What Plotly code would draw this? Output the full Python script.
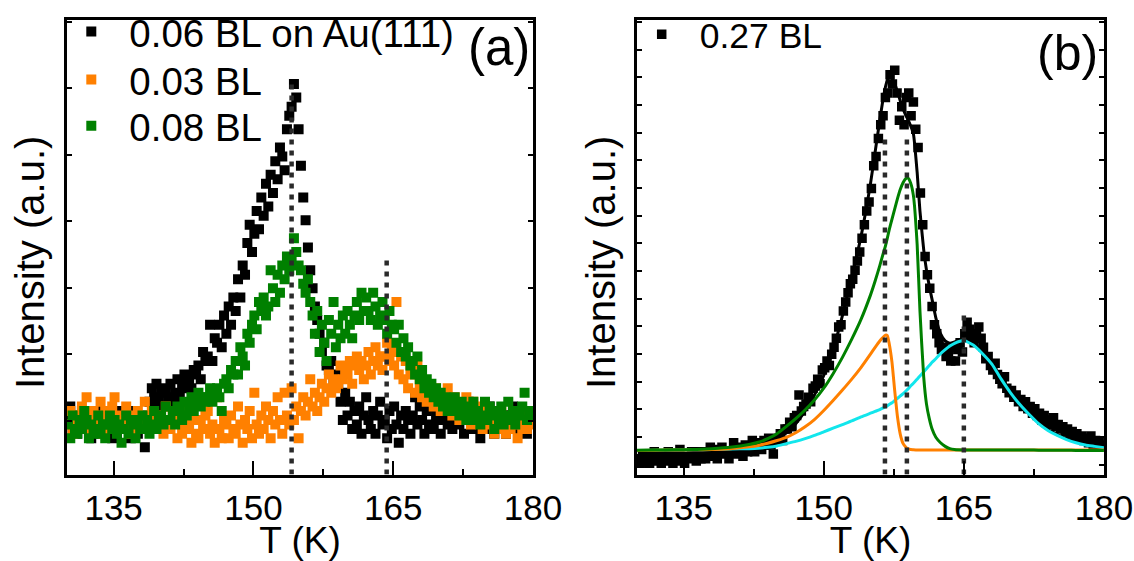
import plotly.graph_objects as go

FONT = "Liberation Sans, Arial, Helvetica, sans-serif"

# Sample temperatures of the desorption scans (K)
temp_scan = [
    130.1, 130.35, 130.6, 130.85, 131.1, 131.35, 131.6, 131.85,
    132.1, 132.35, 132.6, 132.85, 133.1, 133.35, 133.6, 133.85,
    134.1, 134.35, 134.6, 134.85, 135.1, 135.35, 135.6, 135.85,
    136.1, 136.35, 136.6, 136.85, 137.1, 137.35, 137.6, 137.85,
    138.1, 138.35, 138.6, 138.85, 139.1, 139.35, 139.6, 139.85,
    140.1, 140.35, 140.6, 140.85, 141.1, 141.35, 141.6, 141.85,
    142.1, 142.35, 142.6, 142.85, 143.1, 143.35, 143.6, 143.85,
    144.1, 144.35, 144.6, 144.85, 145.1, 145.35, 145.6, 145.85,
    146.1, 146.35, 146.6, 146.85, 147.1, 147.35, 147.6, 147.85,
    148.1, 148.35, 148.6, 148.85, 149.1, 149.35, 149.6, 149.85,
    150.1, 150.35, 150.6, 150.85, 151.1, 151.35, 151.6, 151.85,
    152.1, 152.35, 152.6, 152.85, 153.1, 153.35, 153.6, 153.85,
    154.1, 154.35, 154.6, 154.85, 155.1, 155.35, 155.6, 155.85,
    156.1, 156.35, 156.6, 156.85, 157.1, 157.35, 157.6, 157.85,
    158.1, 158.35, 158.6, 158.85, 159.1, 159.35, 159.6, 159.85,
    160.1, 160.35, 160.6, 160.85, 161.1, 161.35, 161.6, 161.85,
    162.1, 162.35, 162.6, 162.85, 163.1, 163.35, 163.6, 163.85,
    164.1, 164.35, 164.6, 164.85, 165.1, 165.35, 165.6, 165.85,
    166.1, 166.35, 166.6, 166.85, 167.1, 167.35, 167.6, 167.85,
    168.1, 168.35, 168.6, 168.85, 169.1, 169.35, 169.6, 169.85,
    170.1, 170.35, 170.6, 170.85, 171.1, 171.35, 171.6, 171.85,
    172.1, 172.35, 172.6, 172.85, 173.1, 173.35, 173.6, 173.85,
    174.1, 174.35, 174.6, 174.85, 175.1, 175.35, 175.6, 175.85,
    176.1, 176.35, 176.6, 176.85, 177.1, 177.35, 177.6, 177.85,
    178.1, 178.35, 178.6, 178.85, 179.1, 179.35, 179.6, 179.85,
]

# (a) intensities, arbitrary units
bl006_au = [
    12, 15, 10, 13, 9, 12, 14, 11, 10, 13, 8, 12, 14, 11, 9, 12,
    10, 13, 11, 8, 12, 9, 14, 11, 13, 10, 12, 8, 11, 14, 9, 12,
    10, 6, 13, 16, 19, 17, 20, 16, 18, 15, 19, 17, 20, 16, 18, 21,
    17, 19, 22, 20, 21, 19, 23, 22, 24, 21, 27, 25, 26, 33, 25, 30,
    29, 33, 28, 35, 31, 37, 33, 39, 36, 43, 39, 46, 44, 51, 55, 49,
    53, 58, 54, 61, 57, 64, 59, 66, 62, 69, 65, 72, 70, 67, 76, 79,
    81, 86, 83, 76, 68, 61, 56, 50, 45, 41, 37, 34, 31, 27, 29, 24,
    23, 25, 21, 22, 20, 16, 12, 18, 13, 16, 10, 14, 11, 15, 9, 13,
    17, 12, 10, 14, 9, 13, 16, 11, 12, 8, 14, 10, 15, 11, 7, 13,
    10, 14, 12, 9, 13, 17, 11, 15, 12, 9, 14, 11, 15, 10, 13, 12,
    9, 12, 14, 11, 13, 10, 12, 15, 11, 14, 9, 12, 16, 12, 10, 13,
    11, 8, 13, 10, 12, 15, 11, 9, 14, 10, 12, 13, 9, 13, 11, 15,
    12, 10, 14, 11, 13, 9, 12, 14,
]

bl003 = [
    11, 14, 9, 12, 13, 10, 15, 12, 17, 12, 10, 14, 11, 13, 16, 9,
    14, 12, 10, 15, 17, 13, 10, 12, 11, 15, 12, 9, 13, 10, 14, 12,
    12, 16, 11, 13, 14, 11, 13, 10, 12, 9, 15, 11, 10, 14, 12, 8,
    13, 9, 11, 14, 10, 7, 12, 9, 8, 12, 10, 13, 14, 9, 11, 7,
    17, 10, 8, 12, 11, 8, 13, 10, 9, 15, 11, 7, 12, 10, 14, 8,
    18, 11, 9, 13, 10, 15, 12, 8, 14, 11, 17, 12, 9, 18, 13, 11,
    19, 12, 15, 8, 14, 17, 13, 16, 21, 15, 18, 14, 17, 20, 16, 19,
    22, 18, 21, 19, 20, 24, 21, 23, 22, 25, 20, 24, 26, 23, 25, 21,
    24, 27, 22, 25, 28, 24, 26, 23, 26, 29, 25, 27, 24, 38, 22, 26,
    21, 25, 19, 23, 22, 18, 24, 20, 17, 20, 16, 19, 18, 15, 19, 16,
    14, 17, 15, 19, 16, 13, 17, 14, 12, 15, 13, 17, 14, 11, 16, 13,
    12, 15, 10, 13, 11, 14, 12, 9, 13, 10, 14, 11, 9, 12, 10, 13,
    11, 8, 13, 10, 12, 10, 14, 11,
]

bl008 = [
    11, 8, 13, 10, 9, 12, 10, 14, 12, 8, 11, 9, 10, 13, 9, 11,
    8, 11, 13, 10, 12, 9, 11, 7, 10, 13, 9, 12, 11, 8, 12, 10,
    13, 10, 12, 9, 11, 14, 10, 12, 13, 11, 15, 12, 12, 14, 11, 15,
    14, 12, 16, 13, 15, 17, 14, 16, 18, 15, 17, 16, 17, 19, 16, 18,
    19, 17, 14, 20, 21, 19, 23, 22, 25, 22, 28, 26, 24, 31, 29, 33,
    35, 32, 38, 36, 39, 35, 37, 45, 41, 38, 44, 40, 46, 43, 48, 45,
    47, 52, 49, 46, 45, 42, 40, 43, 38, 35, 31, 36, 27, 33, 29, 25,
    34, 31, 38, 28, 33, 30, 35, 31, 36, 33, 30, 35, 38, 34, 40, 36,
    39, 36, 34, 40, 37, 33, 35, 38, 34, 31, 36, 33, 32, 29, 33, 27,
    30, 26, 28, 24, 25, 22, 26, 21, 23, 19, 21, 18, 20, 17, 19, 16,
    18, 15, 17, 14, 16, 14, 17, 15, 13, 16, 14, 12, 15, 13, 16, 12,
    14, 11, 13, 16, 12, 15, 13, 10, 14, 12, 15, 11, 13, 16, 12, 14,
    11, 14, 13, 15, 18, 12, 14, 13,
]

# (b) intensities, arbitrary units
bl027 = [
    3.5, 2.5, 4.5, 3, 4, 2.5, 3.5, 5, 3, 4.5, 2.5, 4, 3.5, 5, 3, 2.5,
    4.5, 3, 5.5, 3.5, 2.5, 4, 3.5, 5, 4.5, 3, 5, 3.5, 5, 3.5, 4.5, 6,
    4, 5.5, 3.5, 5, 6, 4.5, 5, 3.5, 5, 7, 4.5, 6, 5.5, 4, 6.5, 5,
    6, 7.5, 5, 6.5, 7, 5.5, 7.5, 6.5, 8, 6.5, 4.5, 7.5, 8, 9, 7.5, 10,
    10, 11.5, 10.5, 12.5, 13, 17.5, 14, 15, 15.5, 17, 16, 19, 19.5, 21, 20, 23,
    23.5, 25, 24, 26.5, 28, 30, 32.5, 33, 36, 38, 40, 42, 43, 45, 47, 49,
    52, 55, 58, 60, 63, 68, 70, 74, 77, 79, 83, 84, 88, 86, 89, 84,
    78, 81, 77, 83, 84, 79, 82, 76, 72, 62, 55, 48, 44, 41, 37, 33,
    31, 29, 27.5, 28, 26, 27, 25, 28, 25, 27.5, 29, 27, 31, 33.5, 32, 30,
    29, 31, 32.5, 30, 28, 25.5, 26, 24, 23, 24.5, 22, 21, 20, 21.5, 19, 18,
    18.5, 17, 17.5, 16, 16.5, 15, 16, 14.5, 15, 13.5, 14.5, 13, 13.5, 12, 13, 11.5,
    12, 11, 12.5, 10.5, 11, 10, 10.5, 9.5, 10, 9, 9.5, 8.5, 9, 8, 8.5, 7.5,
    8, 7, 8.5, 6.5, 7.5, 6, 7, 6.5,
]

# Fitted desorption components for (b)
fit_temp = [
    130, 132, 134, 136, 138, 140,
    142, 143, 144, 145, 146, 147, 148, 149, 150, 151, 152, 153, 154, 155,
    155.5, 156, 156.3, 156.6, 156.8, 157.0, 157.3, 157.6, 157.9, 158.2,
    158.5, 158.8, 159.0, 159.3, 159.6,
    160.0, 160.3, 160.7, 161.0, 161.3, 161.6, 162.0, 162.5, 163.0, 163.5,
    164, 165, 166, 167, 168, 169, 170, 171, 172, 173, 174, 175, 176, 177,
    178, 179, 180,
]
fit_total = [
    3.5, 3.7, 3.9, 4.1, 4.4, 4.8,
    5.6, 6.1, 6.8, 7.8, 9.2, 11.2, 14.0, 17.5, 21.8, 27.5, 35.0, 43.5, 52.5, 64.0,
    71.0, 78.0, 82.0, 85.3, 86.8, 87.5, 87.2, 86.0, 84.2, 82.2,
    80.5, 79.0, 78.2, 76.8, 75.0,
    66.5, 58.0, 49.5, 45.0, 41.5, 38.5, 34.5, 31.0, 29.4, 28.9,
    29.2, 30.0, 29.0, 27.0, 24.5, 21.2, 18.2, 15.6, 13.4, 11.4, 9.9, 8.8, 7.9, 7.2,
    6.7, 6.4, 6.1,
]
fit_low = [
    5.3, 5.35, 5.4, 5.45, 5.5, 5.7,
    6.1, 6.4, 6.9, 7.5, 8.2, 9.2, 10.5, 12.1, 14.1, 16.3, 18.6, 21.0, 23.6, 26.5,
    28.0, 29.4, 30.1, 30.7, 30.6, 28.9, 24.8, 18.4, 12.6, 8.8,
    6.8, 6.0, 5.7, 5.5, 5.45,
    5.4, 5.4, 5.4, 5.4, 5.4, 5.4, 5.4, 5.4, 5.4, 5.4,
    5.4, 5.4, 5.4, 5.4, 5.4, 5.4, 5.4, 5.4, 5.4, 5.4, 5.4, 5.4, 5.4, 5.4,
    5.4, 5.4, 5.4,
]
fit_mid = [
    5.35, 5.4, 5.45, 5.5, 5.7, 6.0,
    6.6, 7.1, 7.9, 9.0, 10.6, 12.3, 14.2, 16.4, 19.0, 22.2, 25.8, 29.8, 34.2, 39.5,
    42.6, 46.0, 48.2, 50.3, 52.0, 53.8, 56.2, 58.5, 60.8, 62.8,
    64.3, 65.2, 65.3, 64.2, 61.4,
    50.6, 36.0, 21.5, 15.5, 12.3, 10.0, 8.2, 7.0, 6.2, 5.7,
    5.5, 5.4, 5.4, 5.4, 5.4, 5.4, 5.4, 5.4, 5.4, 5.35, 5.35, 5.35, 5.35, 5.3,
    5.3, 5.3, 5.3,
]
fit_high = [
    5.3, 5.35, 5.4, 5.45, 5.5, 5.6,
    5.7, 5.8, 6.0, 6.3, 6.8, 7.3, 7.9, 8.6, 9.4, 10.2, 11.0, 11.8, 12.7, 13.5,
    13.9, 14.3, 14.6, 14.9, 15.1, 15.4, 15.8, 16.3, 16.8, 17.3,
    17.8, 18.4, 18.8, 19.5, 20.1,
    21.0, 21.7, 22.6, 23.3, 24.0, 24.7, 25.5, 26.6, 27.5, 28.3,
    28.9, 29.5, 28.5, 26.6, 24.3, 21.0, 18.0, 15.4, 13.2, 11.2, 9.7, 8.6, 7.7, 7.0,
    6.5, 6.2, 5.9,
]

# Peak temperatures marked by dotted guides, and the height each guide reaches
peak_temps_a = [154.1, 164.3]
peak_tops_a = [86.3, 47.7]
peak_temps_b = [156.55, 158.9, 165.0]
peak_tops_b = [74.6, 74.6, 35.9]

ORANGE = "#FF8000"
GREEN = "#008000"
CYAN = "#12E6EC"
GUIDE = "#2A2A2A"

fig = go.Figure()

# one single-entry legend per coverage so the rows sit where they should
for name, vals, color, leg in [
    ("0.06 BL on Au(111)", bl006_au, "black", "legend"),
    ("0.03 BL", bl003, ORANGE, "legend3"),
    ("0.08 BL", bl008, GREEN, "legend4"),
]:
    fig.add_trace(go.Scatter(
        x=temp_scan, y=vals, mode="markers", name=name,
        marker=dict(symbol="square", size=10, color=color, line=dict(width=0)),
        xaxis="x", yaxis="y", legend=leg,
    ))

fig.add_trace(go.Scatter(
    x=temp_scan, y=bl027, mode="markers", name="0.27 BL",
    marker=dict(symbol="square", size=9.5, color="black", line=dict(width=0)),
    xaxis="x2", yaxis="y2", legend="legend2",
))

for vals, color in [(fit_total, "black"), (fit_high, CYAN), (fit_low, ORANGE), (fit_mid, GREEN)]:
    fig.add_trace(go.Scatter(
        x=fit_temp, y=vals, mode="lines", showlegend=False,
        line=dict(color=color, width=3, shape="spline", smoothing=0.5),
        xaxis="x2", yaxis="y2",
    ))

for temps, tops, xa, ya in [(peak_temps_a, peak_tops_a, "x", "y"),
                            (peak_temps_b, peak_tops_b, "x2", "y2")]:
    for t, top in zip(temps, tops):
        fig.add_trace(go.Scatter(
            x=[t, t], y=[0, top], mode="lines", showlegend=False,
            line=dict(color=GUIDE, width=4.5, dash="5px,6px"),
            xaxis=xa, yaxis=ya,
        ))


def x_axis(domain, anchor):
    return dict(
        domain=domain, anchor=anchor, range=[130, 180],
        tick0=135, dtick=15, ticks="inside", ticklen=14, tickwidth=2,
        tickcolor="black", ticklabelstandoff=1,
        tickfont=dict(size=35, family=FONT, color="black"),
        minor=dict(ticks="inside", ticklen=6, tickwidth=2, tickcolor="black",
                   tick0=135, dtick=7.5, showgrid=False),
        showline=True, linewidth=2.5, linecolor="black", mirror=True,
        showgrid=False, zeroline=False, automargin=False,
        title=dict(text="T (K)", font=dict(size=37, family=FONT, color="black"),
                   standoff=11),
    )


def y_axis(domain, anchor, tick0, dtick):
    return dict(
        domain=domain, anchor=anchor, range=[0, 100],
        tick0=tick0, dtick=dtick, ticks="inside", ticklen=5, tickwidth=2,
        tickcolor="black", showticklabels=False,
        showline=True, linewidth=2.5, linecolor="black", mirror="ticks",
        showgrid=False, zeroline=False, automargin=False,
    )


def legend_box(y, x=0.047, size=38.5):
    return dict(x=x, y=y, xanchor="left", yanchor="top",
                bgcolor="rgba(0,0,0,0)", borderwidth=0,
                font=dict(size=size, family=FONT, color="black"),
                itemwidth=66, tracegroupgap=0)


ydom = [0.1578, 0.9866]
ylabel_font = dict(size=40, family=FONT, color="black")

fig.update_layout(
    width=1134, height=561,
    margin=dict(l=0, r=0, t=0, b=0),
    paper_bgcolor="white", plot_bgcolor="white",
    font=dict(family=FONT, color="black"),
    xaxis=x_axis([0.0591, 0.4700], "y"),
    yaxis=y_axis(ydom, "x", 11.8, 14.65),
    xaxis2=x_axis([0.5617, 0.9735], "y2"),
    yaxis2=y_axis(ydom, "x2", 2.2, 6.09),
    showlegend=True,
    legend=legend_box(1.024),
    legend3=legend_box(0.936),
    legend4=legend_box(0.852),
    legend2=legend_box(1.015, x=0.550, size=35.5),
    annotations=[
        dict(text="(a)", xref="x domain", yref="y domain", x=0.998, y=0.941,
             xanchor="right", yanchor="middle", showarrow=False,
             font=dict(size=51, family=FONT, color="black")),
        dict(text="(b)", xref="x2 domain", yref="y2 domain", x=0.991, y=0.929,
             xanchor="right", yanchor="middle", showarrow=False,
             font=dict(size=50, family=FONT, color="black")),
        dict(text="Intensity (a.u.)", xref="paper", yref="paper",
             x=0.0265, y=0.5437, xanchor="center", yanchor="middle",
             textangle=-90, showarrow=False, font=ylabel_font),
        dict(text="Intensity (a.u.)", xref="paper", yref="paper",
             x=0.5300, y=0.5437, xanchor="center", yanchor="middle",
             textangle=-90, showarrow=False, font=ylabel_font),
    ],
)

fig.write_html("out.html")
